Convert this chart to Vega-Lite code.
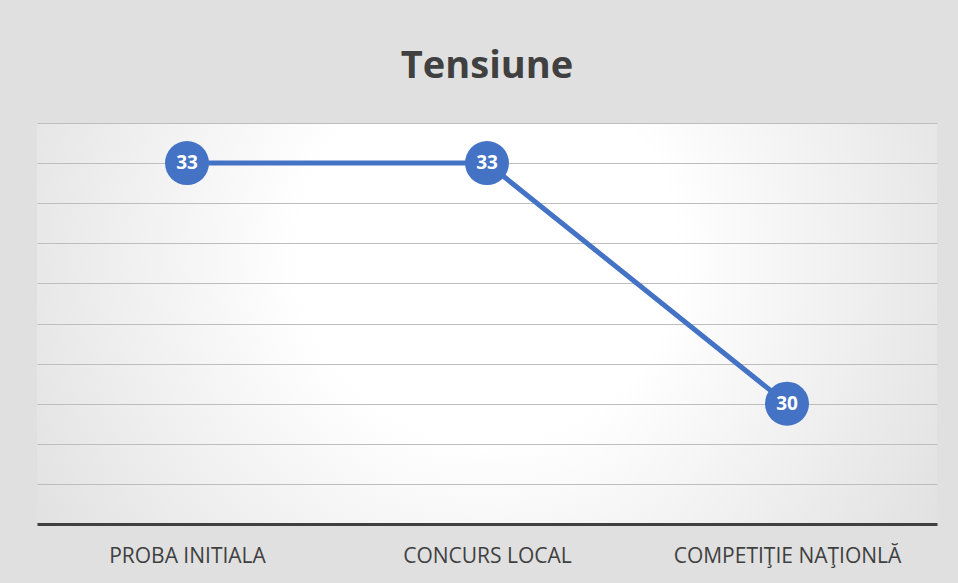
{
  "$schema": "https://vega.github.io/schema/vega-lite/v6.json",
  "width": 900,
  "height": 401,
  "autosize": {"type": "none"},
  "padding": {"left": 37, "top": 123, "right": 21, "bottom": 59},
  "background": "#e0e0e0",
  "config": {
    "view": {
      "stroke": null,
      "fill": {
        "gradient": "radial",
        "x1": 0.5, "y1": 0.42, "r1": 0,
        "x2": 0.5, "y2": 0.42, "r2": 0.7,
        "stops": [
          {"offset": 0, "color": "#ffffff"},
          {"offset": 0.3, "color": "#ffffff"},
          {"offset": 1, "color": "#d8d8d8"}
        ]
      }
    }
  },
  "title": {
    "text": "Tensiune",
    "font": "Open Sans",
    "fontSize": 38,
    "fontWeight": "bold",
    "color": "#404040",
    "anchor": "middle",
    "baseline": "alphabetic",
    "offset": 7
  },
  "data": {
    "values": [
      {"etapa": "PROBA INITIALA", "tensiune": 33},
      {"etapa": "CONCURS LOCAL", "tensiune": 33},
      {"etapa": "COMPETIŢIE NAŢIONLĂ", "tensiune": 30}
    ]
  },
  "encoding": {
    "x": {
      "field": "etapa",
      "type": "nominal",
      "sort": null,
      "scale": {"type": "point", "padding": 0.5},
      "axis": {
        "title": null,
        "labelAngle": 0,
        "labelFont": "Open Sans",
        "labelFontSize": 21,
        "labelColor": "#404040",
        "labelPadding": 21,
        "labelLimit": 0,
        "ticks": false,
        "domainColor": "#404040",
        "domainWidth": 3,
        "grid": false
      }
    },
    "y": {
      "field": "tensiune",
      "type": "quantitative",
      "scale": {"domain": [28.5, 33.5], "nice": false, "zero": false},
      "axis": {
        "title": null,
        "labels": false,
        "ticks": false,
        "domain": false,
        "values": [29, 29.5, 30, 30.5, 31, 31.5, 32, 32.5, 33, 33.5],
        "gridColor": "#bdbdbd",
        "gridWidth": 1
      }
    }
  },
  "layer": [
    {"mark": {"type": "line", "color": "#4472C4", "strokeWidth": 5}},
    {"mark": {"type": "point", "shape": "circle", "filled": true, "opacity": 1, "color": "#4472C4", "size": 1936}},
    {
      "mark": {"type": "text", "color": "white", "font": "Open Sans", "fontWeight": "bold", "fontSize": 19},
      "encoding": {"text": {"field": "tensiune", "type": "quantitative"}}
    }
  ]
}
